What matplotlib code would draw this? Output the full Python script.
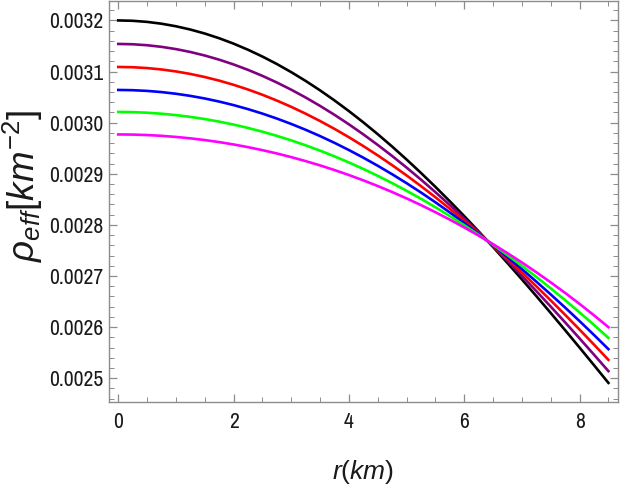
import matplotlib
matplotlib.use("Agg")
import matplotlib.pyplot as plt
from matplotlib.ticker import MultipleLocator, FormatStrFormatter
from matplotlib import font_manager

# radius values (km)
r = [0.0, 0.25, 0.5, 0.75, 1.0, 1.25, 1.5, 1.75, 2.0, 2.25, 2.5, 2.75, 3.0, 3.25, 3.5, 3.75,
     4.0, 4.25, 4.5, 4.75, 5.0, 5.25, 5.5, 5.75, 6.0, 6.25, 6.5, 6.75, 7.0, 7.25, 7.5, 7.75,
     8.0, 8.25, 8.5]

# effective density (units of 1e-6 km^-2)
rho_black = [3200.00, 3199.28, 3197.14, 3193.57, 3188.57, 3182.16, 3174.35, 3165.14, 3154.56,
             3142.61, 3129.32, 3114.70, 3098.78, 3081.58, 3063.13, 3043.45, 3022.59, 3000.56,
             2977.41, 2953.17, 2927.89, 2901.60, 2874.34, 2846.17, 2817.13, 2787.27, 2756.65,
             2725.30, 2693.31, 2660.72, 2627.58, 2593.97, 2559.95, 2525.59, 2490.95]
rho_purple = [3154.00, 3153.37, 3151.47, 3148.32, 3143.91, 3138.25, 3131.34, 3123.21, 3113.85,
              3103.27, 3091.50, 3078.55, 3064.43, 3049.16, 3032.77, 3015.28, 2996.70, 2977.07,
              2956.40, 2934.74, 2912.11, 2888.53, 2864.05, 2838.70, 2812.52, 2785.54, 2757.80,
              2729.35, 2700.22, 2670.47, 2640.13, 2609.25, 2577.91, 2546.12, 2513.95]
rho_red = [3109.00, 3108.45, 3106.80, 3104.06, 3100.23, 3095.30, 3089.29, 3082.21, 3074.05,
           3064.83, 3054.56, 3043.24, 3030.89, 3017.53, 3003.16, 2987.80, 2971.47, 2954.18,
           2935.95, 2916.81, 2896.76, 2875.84, 2854.07, 2831.47, 2808.06, 2783.87, 2758.93,
           2733.27, 2706.92, 2679.89, 2652.24, 2623.99, 2595.18, 2565.83, 2535.99]
rho_blue = [3064.00, 3063.53, 3062.14, 3059.82, 3056.56, 3052.38, 3047.28, 3041.26, 3034.32,
            3026.47, 3017.71, 3008.04, 2997.48, 2986.03, 2973.70, 2960.49, 2946.41, 2931.47,
            2915.68, 2899.05, 2881.59, 2863.31, 2844.22, 2824.33, 2803.66, 2782.22, 2760.02,
            2737.08, 2713.41, 2689.03, 2663.94, 2638.18, 2611.75, 2584.68, 2556.97]
rho_green = [3021.00, 3020.61, 3019.45, 3017.51, 3014.80, 3011.32, 3007.06, 3002.03, 2996.23,
             2989.65, 2982.31, 2974.19, 2965.31, 2955.66, 2945.24, 2934.06, 2922.11, 2909.41,
             2895.94, 2881.72, 2866.74, 2851.00, 2834.52, 2817.28, 2799.30, 2780.57, 2761.10,
             2740.89, 2719.94, 2698.26, 2675.84, 2652.70, 2628.83, 2604.25, 2578.94]
rho_magenta = [2977.00, 2976.69, 2975.78, 2974.25, 2972.10, 2969.34, 2965.96, 2961.97, 2957.35,
               2952.10, 2946.23, 2939.73, 2932.58, 2924.80, 2916.37, 2907.28, 2897.54, 2887.13,
               2876.04, 2864.28, 2851.83, 2838.69, 2824.84, 2810.27, 2794.99, 2778.97, 2762.21,
               2744.69, 2726.41, 2707.36, 2687.51, 2666.87, 2645.41, 2623.13, 2599.99]

series = [rho_black, rho_purple, rho_red, rho_blue, rho_green, rho_magenta]
colors = ["#000000", "#800080", "#ff0000", "#0000ff", "#00ff00", "#ff00ff"]

xticks = [0, 2, 4, 6, 8]
yticks = [0.0025, 0.0026, 0.0027, 0.0028, 0.0029, 0.0030, 0.0031, 0.0032]

# pick a narrow sans font for tick labels if one is installed
tick_fp = None
for f in font_manager.fontManager.ttflist:
    if ("Narrow" in f.name or "Condensed" in f.name) and f.style == "normal" and f.weight in (400, "normal", "regular"):
        tick_fp = font_manager.FontProperties(fname=f.fname)
        break
if tick_fp is None:
    for f in font_manager.fontManager.ttflist:
        if f.stretch not in ("normal", 500) and f.style == "normal" and "DejaVu Sans" in f.name:
            tick_fp = font_manager.FontProperties(fname=f.fname)
            break
narrow = tick_fp is not None
if tick_fp is None:
    tick_fp = font_manager.FontProperties(family="Liberation Sans")

plt.rcParams["mathtext.fontset"] = "custom"
plt.rcParams["mathtext.it"] = "Liberation Sans:italic"
plt.rcParams["mathtext.rm"] = "Liberation Sans"

W, H = 621, 491
fig = plt.figure(figsize=(W / 100, H / 100), dpi=100)
ax = fig.add_axes([109 / W, 1 - 402.3 / H, (618 - 109) / W, (402.3 - 1) / H])

for ys, c in zip(series, colors):
    ax.plot(r, [v * 1e-6 for v in ys], color=c, lw=1.9)

ax.set_xlim(-0.161, 8.666)
ax.set_ylim(0.002453, 0.003238)
ax.set_xticks(xticks)
ax.set_yticks(yticks)
ax.xaxis.set_minor_locator(MultipleLocator(0.5))
ax.yaxis.set_minor_locator(MultipleLocator(0.00002))
ax.yaxis.set_major_formatter(FormatStrFormatter("%.4f"))

frame_col = "#8c8c8c"
for s in ax.spines.values():
    s.set_color(frame_col)
    s.set_linewidth(1.0)
ax.tick_params(which="both", direction="in", top=True, right=True, color=frame_col)
ax.tick_params(which="major", length=6, width=0.9)
ax.tick_params(which="minor", length=3.5, width=0.7)
ax.tick_params(axis="y", which="major", pad=4)
ax.tick_params(axis="x", which="major", pad=7)
tsize = 15.5 if narrow else 13.5
for lab in ax.get_xticklabels() + ax.get_yticklabels():
    lab.set_fontproperties(tick_fp)
    lab.set_fontsize(tsize)
    lab.set_color("#1a1a1a")

fig.text(363 / W, 1 - 472 / H, r"$r(km)$", ha="center", va="center", fontsize=19, color="#1a1a1a")
fig.text(23 / W, 1 - 186 / H, r"$\rho_{eff}[km^{-2}]$", ha="center", va="center",
         rotation=90, fontsize=26.5, color="#1a1a1a")

fig.savefig("out.png", dpi=100)
